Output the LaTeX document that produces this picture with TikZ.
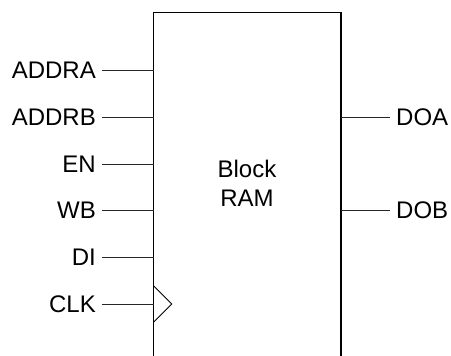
\documentclass[tikz,border=0pt]{standalone}
\usepackage{fontspec}
\setmainfont{Liberation Sans}
\tikzset{
  ramblock/.style={draw=black, line width=1.6pt, minimum width=6.589cm, minimum height=12.564cm, inner sep=0pt, outer sep=0pt},
  ramlabel/.style={font=\fontsize{24}{29}\selectfont, align=center},
  pinlabel/.style={font=\fontsize{24}{28}\selectfont, inner sep=6pt},
  pinwire/.style={line width=0.9pt, draw=black!85},
  clockmark/.style={line width=0.9pt, draw=black, line join=miter},
}
\begin{document}
\begin{tikzpicture}
\useasboundingbox (0,0) rectangle (15.849,12.510);
\node[ramblock] (ram) at (8.689,5.782) {};
\node[ramlabel] (title) at (8.680,6.079) {Block\\RAM};
\node[pinlabel, anchor=east] (addra) at (3.584,10.040) {ADDRA};
\node[pinlabel, anchor=east] (addrb) at (3.584,8.398) {ADDRB};
\node[pinlabel, anchor=east] (en) at (3.584,6.747) {EN};
\node[pinlabel, anchor=east] (wb) at (3.584,5.106) {WB};
\node[pinlabel, anchor=east] (di) at (3.584,3.468) {DI};
\node[pinlabel, anchor=east] (clk) at (3.584,1.827) {CLK};
\node[pinlabel, anchor=west] (doa) at (13.705,8.398) {DOA};
\node[pinlabel, anchor=west] (dob) at (13.705,5.106) {DOB};
\draw[pinwire] (addra.east) -- (addra.east -| ram.west);
\draw[pinwire] (addrb.east) -- (addrb.east -| ram.west);
\draw[pinwire] (en.east) -- (en.east -| ram.west);
\draw[pinwire] (wb.east) -- (wb.east -| ram.west);
\draw[pinwire] (di.east) -- (di.east -| ram.west);
\draw[pinwire] (clk.east) -- (clk.east -| ram.west);
\draw[pinwire] (doa.west -| ram.east) -- (doa.west);
\draw[pinwire] (dob.west -| ram.east) -- (dob.west);
\coordinate (clkpin) at (clk.east -| ram.west);
\draw[clockmark] ([yshift=0.64cm]clkpin) -- ++(0.64,-0.64) -- ++(-0.64,-0.64);
\end{tikzpicture}
\end{document}
